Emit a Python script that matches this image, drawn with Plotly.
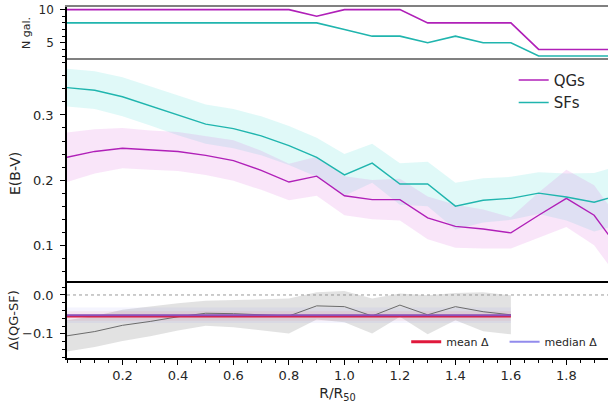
import plotly.graph_objects as go

# Radial bins (R / R50)
r_bins = [0.0, 0.1, 0.2, 0.3, 0.4, 0.5, 0.6, 0.7, 0.8, 0.9, 1.0,
          1.1, 1.2, 1.3, 1.4, 1.5, 1.6, 1.7, 1.8, 1.9, 2.0]

# Number of galaxies contributing to each bin
n_qg = [10, 10, 10, 10, 10, 10, 10, 10, 10, 9, 10, 10, 10, 8, 8, 8, 8, 4, 4, 4, 4]
n_sf = [8, 8, 8, 8, 8, 8, 8, 8, 8, 8, 7, 6, 6, 5, 6, 5, 5, 3, 3, 3, 3]

# Median E(B-V) profiles and half-widths of their uncertainty bands
ebv_qg = [0.235, 0.244, 0.249, 0.246, 0.244, 0.238, 0.230, 0.215, 0.197, 0.206, 0.176,
          0.170, 0.170, 0.142, 0.129, 0.125, 0.119, 0.146, 0.172, 0.146, 0.088]
err_qg = [0.038, 0.034, 0.031, 0.030, 0.030, 0.030, 0.031, 0.030, 0.028, 0.030, 0.030,
          0.030, 0.032, 0.033, 0.033, 0.030, 0.024, 0.035, 0.044, 0.046, 0.046]
ebv_sf = [0.342, 0.338, 0.328, 0.314, 0.299, 0.286, 0.279, 0.268, 0.253, 0.235, 0.208,
          0.226, 0.194, 0.194, 0.160, 0.169, 0.172, 0.180, 0.174, 0.166, 0.178]
err_sf = [0.029, 0.029, 0.030, 0.030, 0.030, 0.030, 0.030, 0.030, 0.030, 0.030, 0.032,
          0.030, 0.032, 0.034, 0.036, 0.034, 0.033, 0.032, 0.036, 0.045, 0.045]

# Difference QG - SF (computed out to R/R50 = 1.6)
r_delta = [0.0, 0.1, 0.2, 0.3, 0.4, 0.5, 0.6, 0.7, 0.8, 0.9, 1.0, 1.1, 1.2, 1.3, 1.4, 1.5, 1.6]
delta = [-0.105, -0.094, -0.078, -0.068, -0.056, -0.047, -0.048, -0.051, -0.054,
         -0.028, -0.030, -0.054, -0.026, -0.051, -0.030, -0.043, -0.051]
err_delta = [0.040, 0.040, 0.040, 0.038, 0.035, 0.032, 0.035, 0.040, 0.045,
             0.035, 0.040, 0.045, 0.030, 0.050, 0.035, 0.050, 0.050]
mean_delta = -0.054
median_delta = -0.052
mean_err = 0.012
median_err = 0.02

x_ticks = [0.2, 0.4, 0.6, 0.8, 1.0, 1.2, 1.4, 1.6, 1.8]

C_QG = "#b020b8"
C_SF = "#20b5ae"
FONT = "DejaVu Sans"
TXT = "#262626"


def band(x, y, e, color, xaxis, yaxis):
    up = [v + d for v, d in zip(y, e)]
    lo = [v - d for v, d in zip(y, e)]
    return go.Scatter(x=list(x) + list(x)[::-1], y=up + lo[::-1], fill="toself",
                      fillcolor=color, line=dict(width=0), mode="lines",
                      hoverinfo="skip", showlegend=False, xaxis=xaxis, yaxis=yaxis)


fig = go.Figure()

# --- top panel: galaxy counts
fig.add_trace(go.Scatter(x=r_bins, y=n_sf, mode="lines", line=dict(color=C_SF, width=1.6),
                         showlegend=False, xaxis="x", yaxis="y"))
fig.add_trace(go.Scatter(x=r_bins, y=n_qg, mode="lines", line=dict(color=C_QG, width=1.6),
                         showlegend=False, xaxis="x", yaxis="y"))

# --- middle panel: E(B-V) profiles
fig.add_trace(band(r_bins, ebv_sf, err_sf, "rgba(64,220,210,0.16)", "x2", "y2"))
fig.add_trace(band(r_bins, ebv_qg, err_qg, "rgba(220,110,220,0.18)", "x2", "y2"))
fig.add_trace(go.Scatter(x=r_bins, y=ebv_qg, mode="lines", name="QGs",
                         line=dict(color=C_QG, width=1.4), xaxis="x2", yaxis="y2",
                         legend="legend"))
fig.add_trace(go.Scatter(x=r_bins, y=ebv_sf, mode="lines", name="SFs",
                         line=dict(color=C_SF, width=1.4), xaxis="x2", yaxis="y2",
                         legend="legend"))

# --- bottom panel: difference
fig.add_trace(go.Scatter(x=[0, 1.95], y=[0, 0], mode="lines",
                         line=dict(color="#9a9a9a", width=1, dash="dot"),
                         showlegend=False, xaxis="x3", yaxis="y3"))
fig.add_trace(band(r_delta, delta, err_delta, "rgba(140,140,140,0.25)", "x3", "y3"))
span = [r_delta[0], r_delta[-1]]
fig.add_trace(band(span, [median_delta] * 2, [median_err] * 2,
                   "rgba(120,120,240,0.08)", "x3", "y3"))
fig.add_trace(band(span, [mean_delta] * 2, [mean_err] * 2,
                   "rgba(240,60,60,0.08)", "x3", "y3"))
fig.add_trace(go.Scatter(x=r_delta, y=delta, mode="lines", line=dict(color="#6b6b6b", width=1),
                         showlegend=False, xaxis="x3", yaxis="y3"))
fig.add_trace(go.Scatter(x=span, y=[mean_delta] * 2, mode="lines", name="mean \u0394",
                         line=dict(color="#e0183c", width=3), xaxis="x3", yaxis="y3",
                         legend="legend2"))
fig.add_trace(go.Scatter(x=span, y=[median_delta] * 2, mode="lines", name="median \u0394",
                         line=dict(color="rgba(110,100,230,0.75)", width=2),
                         xaxis="x3", yaxis="y3", legend="legend3"))

tickfont = dict(family=FONT, size=13, color=TXT)
xcommon = dict(range=[0, 1.95], showgrid=False, zeroline=False, matches="x3")
ycommon = dict(showgrid=False, zeroline=False, showline=True, linecolor="black",
               linewidth=1.5, ticks="outside", ticklen=5, tickcolor="black",
               tickfont=tickfont, ticklabelstandoff=4)
small_legend = dict(yanchor="middle", y=0.046, bgcolor="rgba(0,0,0,0)",
                    font=dict(family=FONT, size=11, color=TXT))

fig.update_layout(
    width=608, height=410,
    margin=dict(l=67, r=0, t=7, b=52),
    plot_bgcolor="white", paper_bgcolor="white",
    font=dict(family=FONT, color=TXT),
    xaxis=dict(**xcommon, domain=[0, 1], anchor="y", showticklabels=False,
               showline=True, linecolor="#808080", linewidth=2, mirror=True, ticks=""),
    xaxis2=dict(**xcommon, domain=[0, 1], anchor="y2", showticklabels=False,
                showline=False, ticks=""),
    xaxis3=dict(range=[0, 1.95], showgrid=False, zeroline=False, domain=[0, 1], anchor="y3",
                showline=True, linecolor="black", linewidth=1.5, mirror=True,
                ticks="outside", ticklen=5, tickcolor="black", tickvals=x_ticks,
                tickformat=".1f", tickfont=tickfont,
                minor=dict(dtick=0.05, tick0=0, ticks="outside", ticklen=3, tickcolor="black"),
                title=dict(text="R/R<sub>50</sub>", font=dict(family=FONT, size=14, color=TXT),
                           standoff=6)),
    yaxis=dict(**{**ycommon, "tickfont": dict(family=FONT, size=12, color=TXT)},
               domain=[0.8538, 1], anchor="x", range=[2.66, 10.4],
               tickvals=[5, 10], minor=dict(dtick=1, ticks="outside", ticklen=3, tickcolor="black")),
    yaxis2=dict(**ycommon, domain=[0.2128, 0.8538], anchor="x2", range=[0.0415, 0.387],
                tickvals=[0.1, 0.2, 0.3], tickformat=".1f",
                minor=dict(dtick=0.02, tick0=0, ticks="outside", ticklen=3, tickcolor="black")),
    yaxis3=dict(**ycommon, domain=[0, 0.2128], anchor="x3", range=[-0.162, 0.030],
                tickvals=[-0.1, 0.0], tickformat=".1f",
                minor=dict(dtick=0.02, tick0=0, ticks="outside", ticklen=3, tickcolor="black")),
    legend=dict(x=0.968, y=0.76, xanchor="right", yanchor="middle",
                bgcolor="rgba(0,0,0,0)", font=dict(family=FONT, size=15, color=TXT)),
    legend2=dict(**small_legend, x=0.627, xanchor="left"),
    legend3=dict(**small_legend, x=0.99, xanchor="right"),
)

# Axis titles for the stacked panels
titles = [("N gal.", 26, 33, 11), ("E(B-V)", 15, 174, 14), ("\u0394(QG-SF)", 13, 320, 13)]
for text, px, py, size in titles:
    fig.add_annotation(text=text, xref="paper", yref="paper",
                       x=(px - 67) / 541, y=(358 - py) / 351, showarrow=False,
                       textangle=-90, font=dict(family=FONT, size=size, color=TXT),
                       xanchor="center", yanchor="middle")

fig.write_html("out.html")
